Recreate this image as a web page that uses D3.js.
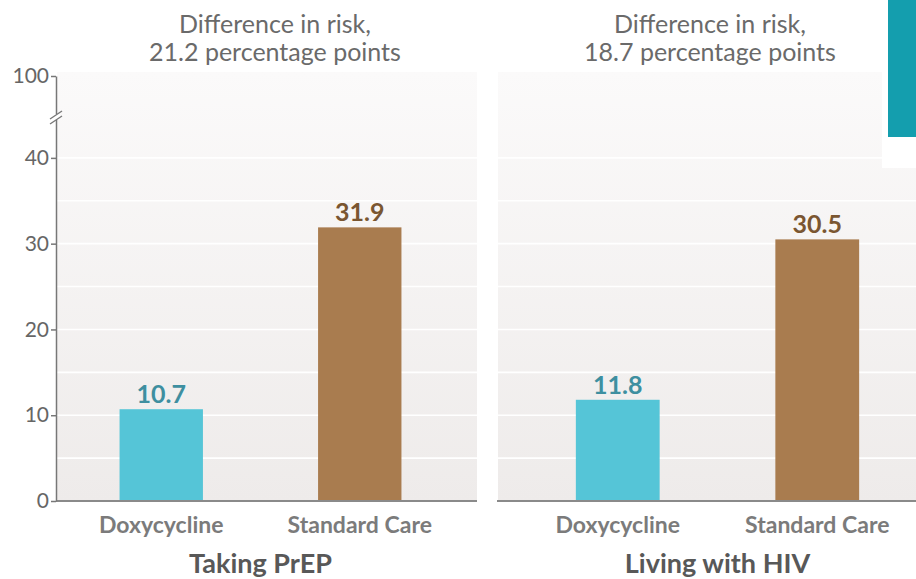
<!DOCTYPE html>
<html>
<head>
<meta charset="utf-8">
<script src="https://cdn.jsdelivr.net/npm/d3@7"></script>
<style>
  html, body { margin: 0; padding: 0; background: #ffffff; }
  svg { display: block; font-family: Lato, "Open Sans", sans-serif; }
</style>
</head>
<body>
<svg id="chart" width="916" height="579"></svg>
<script>
// Risk of the outcome (%) by treatment group, in two populations
const groups = ["Taking PrEP", "Living with HIV"];
const categories = ["Doxycycline", "Standard Care"];
const prepValues = [10.7, 31.9];
const hivValues = [11.8, 30.5];
const riskDifferences = ["21.2", "18.7"];
const yTicks = [0, 10, 20, 30, 40, 100];
const gridValues = [5, 10, 15, 20, 25, 30, 35, 40];

const svg = d3.select("#chart");

const barColors = { "Doxycycline": "#55c5d7", "Standard Care": "#a97c4f" };
const labelColors = { "Doxycycline": "#3e8fa0", "Standard Care": "#7a5631" };

// Broken y axis: 0–45 on the main segment, compressed 45–100 above the break
const y = d3.scaleLinear().domain([0, 45, 100]).range([501, 115, 76]);

const panels = [
  { name: groups[0], values: prepValues, diff: riskDifferences[0], x0: 57, x1: 477, band: [60, 461], titleX: 275 },
  { name: groups[1], values: hivValues, diff: riskDifferences[1], x0: 498, x1: 916, band: [516, 919], titleX: 710 }
];

// Panel background gradient
const defs = svg.append("defs");
const grad = defs.append("linearGradient").attr("id", "panelBg")
  .attr("x1", 0).attr("y1", 0).attr("x2", 0).attr("y2", 1);
grad.append("stop").attr("offset", "0%").attr("stop-color", "#fbfafa");
grad.append("stop").attr("offset", "100%").attr("stop-color", "#eeebea");

panels.forEach(p => {
  const g = svg.append("g");
  g.append("rect")
    .attr("x", p.x0).attr("y", 72)
    .attr("width", p.x1 - p.x0).attr("height", y(0) - 72)
    .attr("fill", "url(#panelBg)");

  // white gridlines every 5 points
  g.selectAll("line.grid").data(gridValues).join("line")
    .attr("class", "grid")
    .attr("x1", p.x0).attr("x2", p.x1)
    .attr("y1", d => y(d)).attr("y2", d => y(d))
    .attr("stroke", "#ffffff").attr("stroke-width", 1.6);

  const x = d3.scaleBand().domain(categories).range(p.band)
    .paddingInner(0.58).paddingOuter(0.3);

  const data = categories.map((c, i) => ({ cat: c, value: p.values[i] }));

  g.selectAll("rect.bar").data(data).join("rect")
    .attr("class", "bar")
    .attr("x", d => x(d.cat))
    .attr("width", x.bandwidth())
    .attr("y", d => y(d.value))
    .attr("height", d => y(0) - y(d.value))
    .attr("fill", d => barColors[d.cat]);

  g.selectAll("text.val").data(data).join("text")
    .attr("class", "val")
    .attr("x", d => x(d.cat) + x.bandwidth() / 2)
    .attr("y", d => y(d.value) - 6)
    .attr("text-anchor", "middle")
    .attr("font-size", 25).attr("font-weight", 700)
    .attr("fill", d => labelColors[d.cat])
    .text(d => d.value.toFixed(1));

  // baseline
  g.append("line")
    .attr("x1", p.x0 - 1).attr("x2", p.x1)
    .attr("y1", y(0)).attr("y2", y(0))
    .attr("stroke", "#8a8a8a").attr("stroke-width", 2);

  // category labels
  g.selectAll("text.cat").data(categories).join("text")
    .attr("class", "cat")
    .attr("x", d => x(d) + x.bandwidth() / 2)
    .attr("y", 533)
    .attr("text-anchor", "middle")
    .attr("font-size", 23).attr("font-weight", 700)
    .attr("fill", "#7b7b7b")
    .text(d => d);

  // group title
  g.append("text")
    .attr("x", (x(categories[0]) + x(categories[1]) + x.bandwidth()) / 2)
    .attr("y", 573)
    .attr("text-anchor", "middle")
    .attr("font-size", 27).attr("font-weight", 700)
    .attr("fill", "#585858")
    .text(p.name);

  // risk difference heading
  const t = g.append("text")
    .attr("text-anchor", "middle")
    .attr("font-size", 25)
    .attr("fill", "#6a6a6a");
  t.append("tspan").attr("x", p.titleX).attr("y", 33).text("Difference in risk,");
  t.append("tspan").attr("x", p.titleX).attr("y", 61).text(p.diff + " percentage points");
});

// y axis
const axisG = svg.append("g").attr("transform", "translate(56,0)");
axisG.call(d3.axisLeft(y).tickValues(yTicks).tickSize(5).tickSizeOuter(0).tickFormat(d3.format("d")));
axisG.select(".domain").attr("stroke", "#777").attr("stroke-width", 1.5);
axisG.selectAll(".tick line").attr("stroke", "#777").attr("stroke-width", 1.5);
axisG.selectAll(".tick text")
  .attr("font-family", "Lato, 'Open Sans', sans-serif")
  .attr("font-size", 21).attr("fill", "#666").attr("x", -7);

// axis break marks
const by = y(45) + 3;
axisG.append("rect").attr("x", -4).attr("y", by - 4).attr("width", 8).attr("height", 6).attr("fill", "#ffffff");
[-3, 2].forEach(off => {
  axisG.append("line")
    .attr("x1", -6).attr("y1", by + off + 4)
    .attr("x2", 6).attr("y2", by + off - 4)
    .attr("stroke", "#777").attr("stroke-width", 1.3);
});

// corner tab at the top right
svg.append("rect").attr("x", 882).attr("y", 0).attr("width", 34).attr("height", 168).attr("fill", "#ffffff");
svg.append("rect").attr("x", 888).attr("y", 0).attr("width", 28).attr("height", 137).attr("fill", "#149eae");
</script>
</body>
</html>
